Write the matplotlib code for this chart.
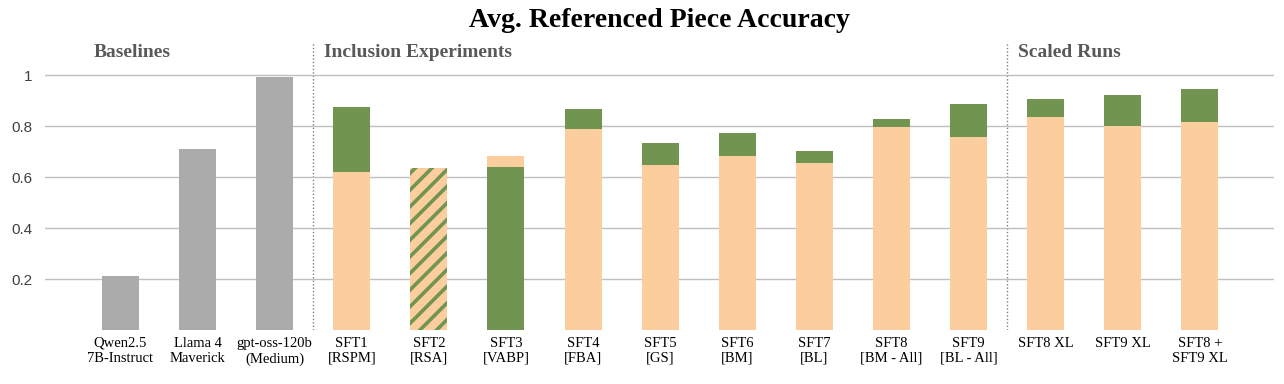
import numpy as np
import matplotlib
matplotlib.use('Agg')
from matplotlib import pyplot as plt

# 数据
labels = ['Qwen2.5\n7B-Instruct', 'Llama 4\nMaverick', 'gpt-oss-120b\n(Medium)',
          'SFT1\n[RSPM]', 'SFT2\n[RSA]', 'SFT3\n[VABP]', 'SFT4\n[FBA]', 'SFT5\n[GS]',
          'SFT6\n[BM]', 'SFT7\n[BL]', 'SFT8\n[BM - All]', 'SFT9\n[BL - All]',
          'SFT8 XL', 'SFT9 XL', 'SFT8 +\nSFT9 XL']
baseline_vals = [0.212, 0.710, 0.992]
orange_vals = [0.620, 0.635, 0.682, 0.788, 0.647, 0.682, 0.655, 0.796, 0.757,
               0.835, 0.800, 0.816]
green_vals = [0.875, 0.635, 0.639, 0.867, 0.733, 0.773, 0.702, 0.827, 0.886,
              0.906, 0.922, 0.945]
sections = ['Baselines', 'Inclusion Experiments', 'Scaled Runs']

GRAY = '#ababab'
ORANGE = '#fccd9d'
GREEN = '#719551'
plt.rcParams['hatch.linewidth'] = 2.6

fig = plt.figure(figsize=(12.84, 3.84), dpi=100)
ax = fig.add_axes([0.035, 0.1406, 0.957, 0.75])

x = np.arange(len(labels))
w = 0.48
ax.bar(x[:3], baseline_vals, width=w, color=GRAY, zorder=2)

xs = x[3:]
for xi, o, g in zip(xs, orange_vals, green_vals):
    if abs(o - g) < 1e-6:
        # 两者相同 -> 斜线填充
        ax.bar(xi, o, width=w, facecolor=ORANGE, edgecolor=GREEN, hatch='//',
               linewidth=0, zorder=2)
    elif g > o:
        ax.bar(xi, g, width=w, color=GREEN, zorder=2)
        ax.bar(xi, o, width=w, color=ORANGE, zorder=3)
    else:
        ax.bar(xi, o, width=w, color=ORANGE, zorder=2)
        ax.bar(xi, g, width=w, color=GREEN, zorder=3)

ax.set_xlim(-0.98, 14.96)
ax.set_ylim(0, 1.13)
ax.set_yticks([0.2, 0.4, 0.6, 0.8, 1.0])
ax.set_yticklabels(['0.2', '0.4', '0.6', '0.8', '1'], fontfamily='Liberation Sans',
                   fontsize=11, color='#404040')
ax.yaxis.grid(True, color='#bfbfbf', linewidth=1.0, zorder=0)
ax.set_xticks(x)
ax.set_xticklabels(labels, fontfamily='Liberation Serif', fontsize=10.5, linespacing=1.2)
ax.tick_params(length=0)
ax.tick_params(axis='y', pad=9)
ax.tick_params(axis='x', pad=5)
for s in ax.spines.values():
    s.set_visible(False)

for sx in [2.5, 11.5]:
    ax.axvline(sx, ymin=0, ymax=1, color='#7f7f7f', linestyle=(0, (1, 1.5)),
               linewidth=1.0, zorder=1)

for sx, name in zip([-0.354, 2.64, 11.64], sections):
    ax.text(sx, 1.09, name, ha='left', va='center', fontfamily='Liberation Serif',
            fontweight='bold', fontsize=14, color='#595959')

ax.set_title('Avg. Referenced Piece Accuracy', fontfamily='Liberation Serif',
             fontweight='bold', fontsize=20, pad=11)

fig.savefig('out.png', dpi=100)
plt.close()
